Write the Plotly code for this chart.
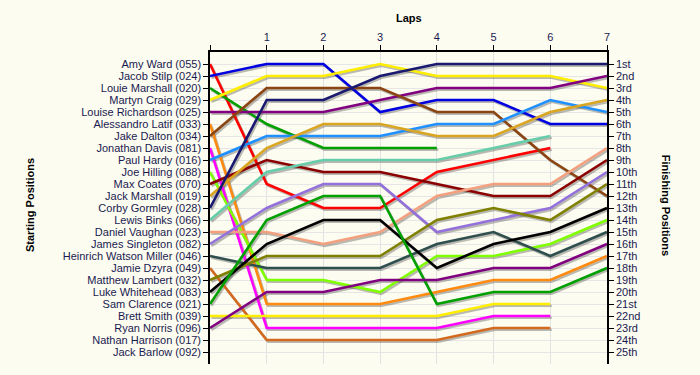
import plotly.graph_objects as go

laps = [0, 1, 2, 3, 4, 5, 6, 7]
lap_tick_labels = ["", "1", "2", "3", "4", "5", "6", "7"]

start_names = [
    "Amy Ward (055)", "Jacob Stilp (024)", "Louie Marshall (020)", "Martyn Craig (029)",
    "Louise Richardson (025)", "Alessandro Latif (033)", "Jake Dalton (034)",
    "Jonathan Davis (081)", "Paul Hardy (016)", "Joe Hilling (088)", "Max Coates (070)",
    "Jack Marshall (019)", "Corby Gormley (028)", "Lewis Binks (066)",
    "Daniel Vaughan (023)", "James Singleton (082)", "Heinrich Watson Miller (046)",
    "Jamie Dzyra (049)", "Matthew Lambert (032)", "Luke Whitehead (083)",
    "Sam Clarence (021)", "Brett Smith (039)", "Ryan Norris (096)",
    "Nathan Harrison (017)", "Jack Barlow (092)",
]
finish_labels = [
    "1st", "2nd", "3rd", "4th", "5th", "6th", "7th", "8th", "9th", "10th", "11th",
    "12th", "13th", "14th", "15th", "16th", "17th", "18th", "19th", "20th", "21st",
    "22nd", "23rd", "24th", "25th",
]

# positions per lap (lap 0 = start)
amy_ward = [1, 11, 13, 13, 10, 9, 8]
jacob_stilp = [2, 1, 1, 5, 4, 4, 6, 6]
louie_marshall = [3, 6, 8, 8, 8]
martyn_craig = [4, 2, 2, 1, 2, 2, 2, 3]
louise_richardson = [5, 5, 5, 4, 3, 3, 3, 2]
alessandro_latif = [6, 21, 21, 21, 20, 19, 19, 17]
jake_dalton = [7, 3, 3, 3, 5, 5, 9, 12]
jonathan_davis = [8, 23, 23, 23, 23, 22, 22]
paul_hardy = [9, 7, 7, 7, 6, 6, 4, 5]
joe_hilling = [10, 19, 19, 20, 17, 17, 16, 14]
max_coates = [11, 9, 10, 10, 11, 12, 12, 9]
jack_marshall = [12, 8, 6, 6, 7, 7, 5, 4]
corby_gormley = [13, 4, 4, 2, 1, 1, 1, 1]
lewis_binks = [14, 10, 9, 9, 9, 8, 7]
daniel_vaughan = [15, 15, 16, 15, 12, 11, 11, 8]
james_singleton = [16, 13, 11, 11, 15, 14, 13, 10]
heinrich_watson_miller = [17, 18, 18, 18, 16, 15, 17, 15]
jamie_dzyra = [18, 24, 24, 24, 24, 23, 23]
matthew_lambert = [19, 17, 17, 17, 14, 13, 14, 11]
luke_whitehead = [20, 16, 14, 14, 18, 16, 15, 13]
sam_clarence = [21, 14, 12, 12, 21, 20, 20, 18]
brett_smith = [22, 22, 22, 22, 22, 21, 21]
ryan_norris = [23, 20, 20, 19, 19, 18, 18, 16]

series = [
    ("Amy Ward (055)", amy_ward, "#FF0000"),
    ("Jacob Stilp (024)", jacob_stilp, "#0000E0"),
    ("Louie Marshall (020)", louie_marshall, "#00A000"),
    ("Martyn Craig (029)", martyn_craig, "#FFEE00"),
    ("Louise Richardson (025)", louise_richardson, "#800080"),
    ("Alessandro Latif (033)", alessandro_latif, "#FF8A10"),
    ("Jake Dalton (034)", jake_dalton, "#8B4513"),
    ("Jonathan Davis (081)", jonathan_davis, "#FF00FF"),
    ("Paul Hardy (016)", paul_hardy, "#1E90FF"),
    ("Joe Hilling (088)", joe_hilling, "#7FFF00"),
    ("Max Coates (070)", max_coates, "#8B0000"),
    ("Jack Marshall (019)", jack_marshall, "#DAA520"),
    ("Corby Gormley (028)", corby_gormley, "#191970"),
    ("Lewis Binks (066)", lewis_binks, "#66CDAA"),
    ("Daniel Vaughan (023)", daniel_vaughan, "#F4A07E"),
    ("James Singleton (082)", james_singleton, "#9370DB"),
    ("Heinrich Watson Miller (046)", heinrich_watson_miller, "#2F4F4F"),
    ("Jamie Dzyra (049)", jamie_dzyra, "#D2691E"),
    ("Matthew Lambert (032)", matthew_lambert, "#808000"),
    ("Luke Whitehead (083)", luke_whitehead, "#000000"),
    ("Sam Clarence (021)", sam_clarence, "#00A000"),
    ("Brett Smith (039)", brett_smith, "#FFEE00"),
    ("Ryan Norris (096)", ryan_norris, "#800080"),
]

fig = go.Figure()

# shadows (offset derived from data)
for name, pos, color in series:
    xs = laps[:len(pos)]
    fig.add_trace(go.Scatter(
        x=[v + 0.025 for v in xs], y=[p + 0.15 for p in pos], mode="lines",
        line=dict(color="rgba(60,60,60,0.35)", width=2.6),
        hoverinfo="skip", showlegend=False))

for name, pos, color in series:
    xs = laps[:len(pos)]
    fig.add_trace(go.Scatter(
        x=xs, y=pos, mode="lines", name=name,
        line=dict(color=color, width=2.6),
        showlegend=False))

# invisible trace to activate right axis
fig.add_trace(go.Scatter(x=[0], y=[1], yaxis="y2", mode="markers",
                         marker=dict(opacity=0), hoverinfo="skip", showlegend=False))

pos_vals = list(range(1, 26))
tick_font = dict(family="Liberation Sans, Arial, sans-serif", size=11, color="#1A1A50")

fig.update_layout(
    width=700, height=375,
    margin=dict(l=210, r=93, t=52, b=11),
    paper_bgcolor="#FCFCF0",
    plot_bgcolor="#FCFCF0",
    showlegend=False,
    xaxis=dict(
        side="top", range=[0, 7], tickmode="array", tickvals=laps,
        ticktext=lap_tick_labels, ticks="outside", ticklen=5, tickcolor="black",
        showline=True, linecolor="black", linewidth=1.5,
        showgrid=True, gridcolor="#E2E2E2", gridwidth=1, zeroline=False,
        tickfont=tick_font,
    ),
    yaxis=dict(
        range=[26, 0], tickmode="array", tickvals=pos_vals, ticktext=start_names,
        ticks="outside", ticklen=5, tickcolor="black",
        showline=True, linecolor="black", linewidth=1.5,
        showgrid=True, gridcolor="#E6E6E6", gridwidth=1, zeroline=False,
        tickfont=tick_font,
    ),
    yaxis2=dict(
        range=[26, 0], overlaying="y", side="right", anchor="x",
        tickmode="array", tickvals=pos_vals, ticktext=finish_labels,
        ticks="outside", ticklen=5, tickcolor="black",
        showline=True, linecolor="black", linewidth=1.5,
        showgrid=False, zeroline=False, tickfont=tick_font,
    ),
    annotations=[
        dict(text="<b>Laps</b>", xref="paper", yref="paper", x=0.5, y=1.108,
             showarrow=False, font=dict(family="Liberation Sans, Arial", size=11, color="black"),
             xanchor="center", yanchor="middle"),
        dict(text="<b>Starting Positions</b>", xref="paper", yref="paper", x=-0.453, y=0.51,
             showarrow=False, textangle=-90,
             font=dict(family="Liberation Sans, Arial", size=11, color="black"),
             xanchor="center", yanchor="middle"),
        dict(text="<b>Finishing Positions</b>", xref="paper", yref="paper", x=1.149, y=0.51,
             showarrow=False, textangle=90,
             font=dict(family="Liberation Sans, Arial", size=11, color="black"),
             xanchor="center", yanchor="middle"),
    ],
)

fig.write_html(
    "out.html",
    config={"displayModeBar": False},
    post_script="document.body.style.margin='0';document.body.style.background='#FCFCF0';",
)
